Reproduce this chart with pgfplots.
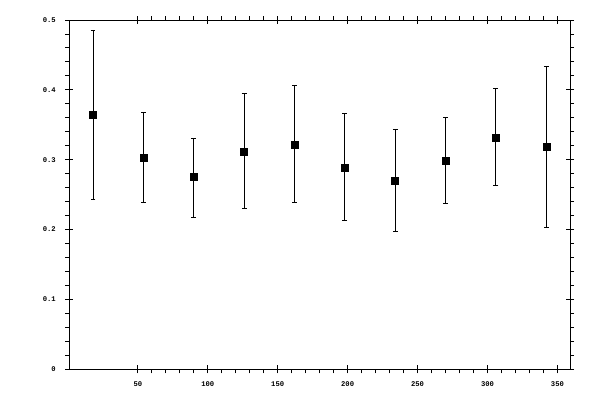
\documentclass[border=0pt]{standalone}
\usepackage{fontspec}
\usepackage{pgfplots}
\pgfplotsset{compat=1.18}
\setmonofont{Liberation Mono}
\begin{document}
\begin{tikzpicture}[x=1pt,y=1pt]
\path[use as bounding box] (-69.3,-30.7) rectangle (530.7,369.3);
\begin{axis}[
    at={(0,0)}, anchor=south west,
    scale only axis,
    width=500.7pt, height=349.3pt,
    xmin=1, xmax=359,
    ymin=0, ymax=0.5,
    xtick={50,100,...,350},
    ytick={0,0.1,...,0.5},
    minor x tick num=4,
    minor y tick num=4,
    tick align=outside,
    major tick length=4pt,
    minor tick length=4pt,
    extra x ticks={50,100,...,350},
    extra x tick labels={},
    extra y ticks={0,0.1,...,0.5},
    extra y tick labels={},
    extra tick style={tick align=inside, major tick length=4pt},
    every tick/.style={black, line width=0.9pt},
    axis line style={line width=0.9pt},
    tick label style={font=\fontsize{7.2}{8}\ttfamily\bfseries},
    /pgf/number format/assume math mode=true,
    yticklabel style={/pgf/number format/fixed, xshift=-6pt},
    xticklabel style={yshift=-5pt},
    clip=false,
]
\addplot[only marks, black, mark=square*, mark size=3.5pt,
    mark options={draw=black, fill=black},
    error bars/.cd, y dir=both, y explicit,
    error mark=-, error mark options={rotate=90, mark size=2.4pt, line width=0.9pt, black},
    error bar style={line width=1pt, black}]
table[x=x, y=y, y error plus=ep, y error minus=em] {
x    y      ep      em
18   0.365  0.120   0.122
54   0.3035 0.0645  0.0645
90   0.275  0.056   0.057
126  0.312  0.083   0.0815
162  0.322  0.0845  0.083
198  0.289  0.0775  0.0757
234  0.2705 0.0735  0.073
270  0.299  0.0617  0.0614
306  0.332  0.0702  0.0686
342  0.319  0.1147  0.1157
};
\end{axis}
\end{tikzpicture}
\end{document}
